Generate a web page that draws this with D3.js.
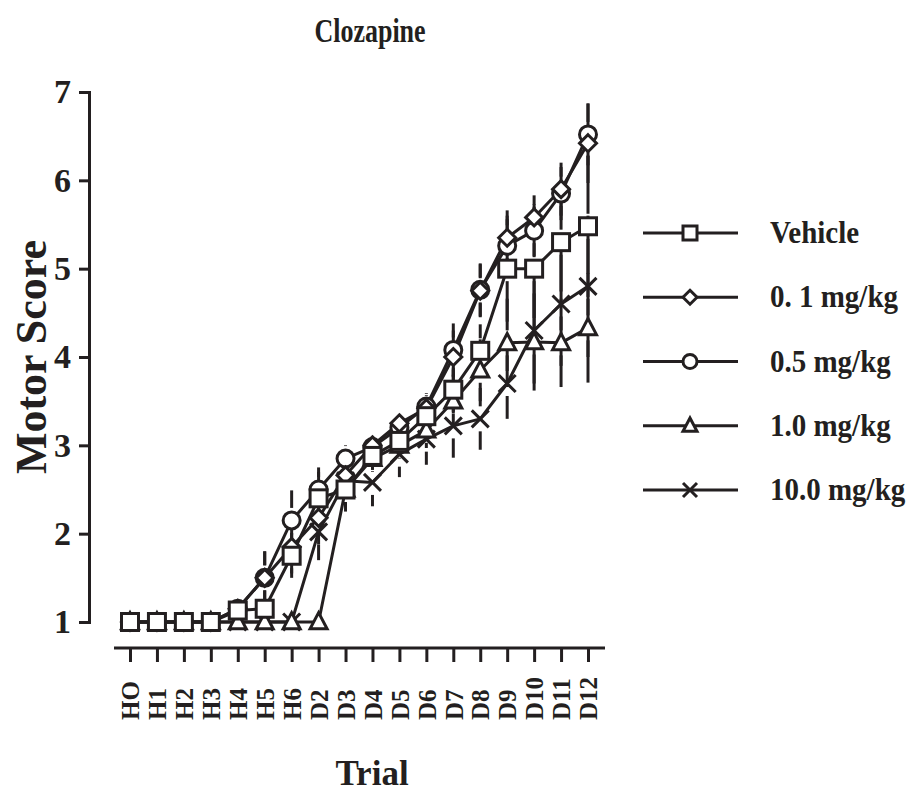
<!DOCTYPE html>
<html>
<head>
<meta charset="utf-8">
<script src="https://cdn.jsdelivr.net/npm/d3@7"></script>
<style>
  html, body { margin: 0; padding: 0; background: #fff; }
  svg text { font-family: "Liberation Serif", "Times New Roman", serif; font-weight: bold; fill: #231f20; }
</style>
</head>
<body>
<svg id="chart" width="906" height="793"></svg>
<script>
// ---------------- data ----------------
const trials = ["HO","H1","H2","H3","H4","H5","H6","D2","D3","D4","D5","D6","D7","D8","D9","D10","D11","D12"];
const yTicks = [1, 2, 3, 4, 5, 6, 7];
const seriesNames = ["Vehicle", "0. 1 mg/kg", "0.5 mg/kg", "1.0 mg/kg", "10.0 mg/kg"];
const seriesSymbols = ["square", "diamond", "circle", "triangle", "cross"];

const vehicle   = [1,1,1,1,1.13,1.15,1.75,2.40,2.50,2.88,3.05,3.33,3.63,4.07,5.00,5.00,5.30,5.48];
const mg01      = [1,1,1,1,1.15,1.50,1.85,2.18,2.66,3.00,3.25,3.42,4.00,4.75,5.35,5.58,5.90,6.42];
const mg05      = [1,1,1,1,1.15,1.50,2.15,2.50,2.85,2.98,3.20,3.44,4.08,4.76,5.26,5.43,5.85,6.52];
const mg10      = [1,1,1,1,1.00,1.00,1.00,1.00,2.50,2.85,3.00,3.17,3.50,3.85,4.16,4.17,4.16,4.33];
const mg100     = [1,1,1,1,1.00,1.00,1.00,2.02,2.60,2.58,2.90,3.07,3.22,3.30,3.70,4.30,4.60,4.80];

const vehicleErr = [0,0,0,0,0,0,0.25,0.30,0.25,0.15,0.15,0.20,0.25,0.30,0.60,0.70,0.70,0.80];
const mg01Err    = [0,0,0,0,0,0.30,0.30,0.30,0.20,0.10,0.10,0.15,0.30,0.30,0.31,0.25,0.30,0.45];
const mg05Err    = [0,0,0,0,0,0.30,0.34,0.25,0.15,0.10,0.10,0.15,0.30,0.30,0.30,0.30,0.30,0.35];
const mg10Err    = [0,0,0,0,0,0,0,0,0.20,0.15,0.15,0.20,0.30,0.35,0.50,0.55,0.50,0.62];
const mg100Err   = [0,0,0,0,0,0,0,0.32,0.20,0.27,0.26,0.29,0.36,0.35,0.40,0.60,0.70,0.80];

const seriesValues = [vehicle, mg01, mg05, mg10, mg100];
const seriesErrors = [vehicleErr, mg01Err, mg05Err, mg10Err, mg100Err];

// ---------------- layout ----------------
const svg = d3.select("#chart");
const ink = "#231f20";
const x = d3.scalePoint().domain(trials).range([130, 588]);
const y = d3.scaleLinear().domain([1, 7]).range([622, 92]);

// title (slightly tall/condensed like the reference)
svg.append("text").attr("transform", "translate(370,42) scale(1,1.3)").attr("text-anchor", "middle")
  .style("font-size", "26px").text("Clozapine");

// y axis
const yAxis = svg.append("g").attr("transform", "translate(89,0)")
  .call(d3.axisLeft(y).tickValues(yTicks).tickFormat(d3.format("d")).tickSize(10).tickPadding(8));
yAxis.select(".domain").attr("stroke", ink).attr("stroke-width", 3);
yAxis.selectAll(".tick line").attr("stroke", ink).attr("stroke-width", 3);
yAxis.selectAll(".tick text").style("font-size", "34px").style("font-family", "Liberation Serif").attr("fill", ink);

// x axis
const xAxis = svg.append("g").attr("transform", "translate(0,648)")
  .call(d3.axisBottom(x).tickSize(14).tickSizeOuter(0));
xAxis.select(".domain").attr("d", "M114,0H605").attr("stroke", ink).attr("stroke-width", 3);
xAxis.selectAll(".tick line").attr("stroke", ink).attr("stroke-width", 3);
xAxis.selectAll(".tick text")
  .attr("transform", "rotate(-90)")
  .attr("x", -72).attr("y", 0).attr("dy", "0.35em")
  .attr("text-anchor", "start")
  .style("font-size", "25px").style("font-family", "Liberation Serif").attr("fill", ink);

// axis titles
svg.append("text").attr("transform", "translate(46,357) rotate(-90)").attr("text-anchor", "middle")
  .style("font-size", "44px").text("Motor Score");
svg.append("text").attr("x", 372).attr("y", 785).attr("text-anchor", "middle")
  .style("font-size", "35px").text("Trial");

// symbols
function drawSymbol(g, type, cx, cy, s, sw) {
  const h = s / 2;
  if (type === "square") {
    g.append("rect").attr("x", cx - h).attr("y", cy - h).attr("width", s).attr("height", s)
      .attr("fill", "#fff").attr("stroke", ink).attr("stroke-width", sw);
  } else if (type === "circle") {
    g.append("circle").attr("cx", cx).attr("cy", cy).attr("r", h)
      .attr("fill", "#fff").attr("stroke", ink).attr("stroke-width", sw);
  } else if (type === "diamond") {
    const d = h * 1.0;
    g.append("path").attr("d", `M${cx},${cy - d}L${cx + d},${cy}L${cx},${cy + d}L${cx - d},${cy}Z`)
      .attr("fill", "#fff").attr("stroke", ink).attr("stroke-width", sw);
  } else if (type === "triangle") {
    g.append("path").attr("d", `M${cx},${cy - h * 1.1}L${cx + h},${cy + h * 0.8}L${cx - h},${cy + h * 0.8}Z`)
      .attr("fill", "#fff").attr("stroke", ink).attr("stroke-width", sw).attr("stroke-linejoin", "miter");
  } else if (type === "cross") {
    g.append("path").attr("d", `M${cx - h},${cy - h}L${cx + h},${cy + h}M${cx - h},${cy + h}L${cx + h},${cy - h}`)
      .attr("fill", "none").attr("stroke", ink).attr("stroke-width", sw);
  }
}

const plot = svg.append("g");
const markerSize = 17;
const gap = markerSize / 2 + 4;

// error bars (drawn with small gap from marker)
const errG = plot.append("g");
seriesValues.forEach((vals, si) => {
  const errs = seriesErrors[si];
  trials.forEach((t, i) => {
    const e = errs[i];
    if (!e) return;
    const cx = x(t), cy = y(vals[i]);
    const top = y(vals[i] + e), bot = y(vals[i] - e);
    if (cy - gap > top) errG.append("line").attr("x1", cx).attr("x2", cx).attr("y1", cy - gap).attr("y2", top)
      .attr("stroke", ink).attr("stroke-width", 3);
    if (cy + gap < bot) errG.append("line").attr("x1", cx).attr("x2", cx).attr("y1", cy + gap).attr("y2", bot)
      .attr("stroke", ink).attr("stroke-width", 3);
  });
});

// lines
const line = d3.line().x((d, i) => x(trials[i])).y(d => y(d));
seriesValues.forEach((vals, si) => {
  plot.append("path").datum(vals).attr("d", line)
    .attr("fill", "none").attr("stroke", ink).attr("stroke-width", 3).attr("stroke-linejoin", "round");
});

// markers (last series drawn first so Vehicle ends on top)
[4, 3, 2, 1, 0].forEach(si => {
  const g = plot.append("g");
  seriesValues[si].forEach((v, i) => {
    drawSymbol(g, seriesSymbols[si], x(trials[i]), y(v), markerSize, 3);
  });
});

// legend
const legendY = d3.scalePoint().domain(seriesNames).range([233, 490]);
const leg = svg.append("g");
seriesNames.forEach((name, si) => {
  const ly = legendY(name);
  leg.append("line").attr("x1", 643).attr("x2", 738).attr("y1", ly).attr("y2", ly)
    .attr("stroke", ink).attr("stroke-width", 3);
  drawSymbol(leg, seriesSymbols[si], 690, ly, 14, 3);
  leg.append("text").attr("transform", `translate(770,${ly + 10}) scale(1,1.1)`)
    .style("font-size", "29px").text(name);
});
</script>
</body>
</html>
